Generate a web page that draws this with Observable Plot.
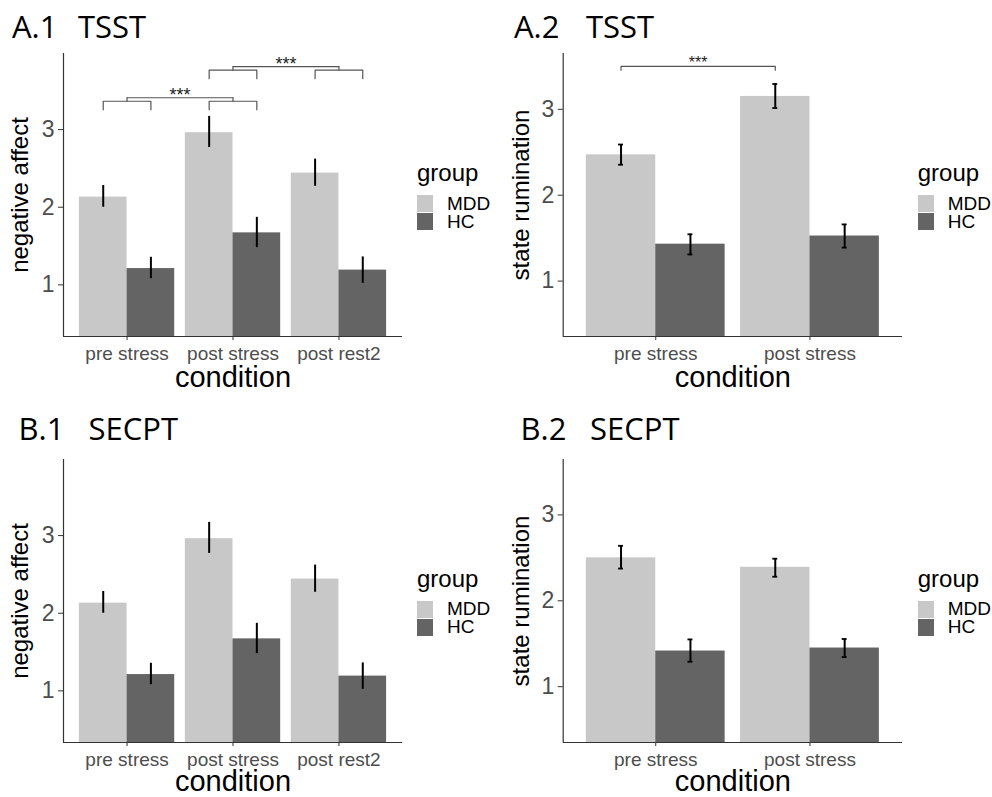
<!DOCTYPE html>
<html>
<head>
<meta charset="utf-8">
<script src="https://cdn.jsdelivr.net/npm/d3@7"></script>
<script src="https://cdn.jsdelivr.net/npm/@observablehq/plot@0.6"></script>
<style>
  html, body { margin: 0; padding: 0; background: #fff; overflow: hidden; }
  #page { position: relative; width: 992px; height: 797px; background: #fff; }
  .abs { position: absolute; white-space: pre; }
  .title { font-family: "Open Sans", "Noto Sans", sans-serif; font-size: 31px; line-height: 31px; color: #000; }
  .lgTitle { font-family: "Liberation Sans", Arial, sans-serif; font-size: 24px; line-height: 24px; color: #000; }
  .lgLabel { font-family: "Liberation Sans", Arial, sans-serif; font-size: 19px; line-height: 17px; color: #000; }
  .swatch { position: absolute; width: 16px; height: 17px; }
  svg { position: absolute; }
</style>
</head>
<body>
<div id="page"></div>
<script>
// ---------------- data ----------------
const conditions3 = ["pre stress", "post stress", "post rest2"];
const conditions2 = ["pre stress", "post stress"];
const groups = ["MDD", "HC"];
const groupColors = ["#c8c8c8", "#646464"];
const yTicks = [1, 2, 3];

// A.1 TSST – negative affect
const a1MDD     = [2.13, 2.96, 2.44];
const a1MDDLow  = [2.00, 2.77, 2.27];
const a1MDDHigh = [2.28, 3.17, 2.62];
const a1HC      = [1.21, 1.67, 1.19];
const a1HCLow   = [1.08, 1.48, 1.02];
const a1HCHigh  = [1.355, 1.87, 1.36];
const a1Brackets = [
  {from: "pre stress",  to: "post stress", y: 3.41, label: "***"},
  {from: "post stress", to: "post rest2",  y: 3.81, label: "***"}
];

// A.2 TSST – state rumination
const a2MDD     = [2.47, 3.15];
const a2MDDLow  = [2.355, 3.015];
const a2MDDHigh = [2.59, 3.295];
const a2HC      = [1.43, 1.525];
const a2HCLow   = [1.31, 1.39];
const a2HCHigh  = [1.545, 1.66];
const a2Brackets = [
  {from: "pre stress", to: "post stress", y: 3.50, label: "***"}
];

// B.1 SECPT – negative affect
const b1MDD     = [2.13, 2.96, 2.44];
const b1MDDLow  = [2.00, 2.77, 2.27];
const b1MDDHigh = [2.28, 3.17, 2.62];
const b1HC      = [1.21, 1.67, 1.19];
const b1HCLow   = [1.08, 1.48, 1.02];
const b1HCHigh  = [1.355, 1.87, 1.36];

// B.2 SECPT – state rumination
const b2MDD     = [2.50, 2.39];
const b2MDDLow  = [2.375, 2.28];
const b2MDDHigh = [2.64, 2.49];
const b2HC      = [1.415, 1.45];
const b2HCLow   = [1.29, 1.345];
const b2HCHigh  = [1.55, 1.555];

// ---------------- drawing ----------------
const page = document.getElementById("page");
const FONT = "'Liberation Sans', Arial, sans-serif";

function buildPanel(cfg) {
  const {conds, mdd, mddLo, mddHi, hc, hcLo, hcHi, yDomain, ylabel,
         brackets = [], bracketKind, caps, starSize = 17, starDy = 2,
         left, top, width, height, marginLeft, marginBottom, ylabelDx, xlabelDy} = cfg;
  const idx = c => conds.indexOf(c) + 1;
  const rows = [];
  conds.forEach((c, i) => {
    rows.push({cond: c, group: "MDD", value: mdd[i], lo: mddLo[i], hi: mddHi[i]});
    rows.push({cond: c, group: "HC",  value: hc[i],  lo: hcLo[i],  hi: hcHi[i]});
  });
  const W = 0.45;
  const x1 = d => idx(d.cond) + (d.group === "MDD" ? -W : 0);
  const xm = d => x1(d) + W / 2;
  const capW = 0.016;

  // bracket geometry
  const pts = [];
  const labels = [];
  brackets.forEach((b, k) => {
    const a = idx(b.from), e = idx(b.to);
    if (bracketKind === "nested") {
      const sub = b.y - 0.045, low = b.y - 0.155;
      [a, e].forEach(c => {
        [[c - W / 2, low], [c - W / 2, sub], [c + W / 2, sub], [c + W / 2, low]]
          .forEach(([x, y]) => pts.push({x, y, z: `${k}-${c}-s`}));
        [[c, sub], [c, b.y]].forEach(([x, y]) => pts.push({x, y, z: `${k}-${c}-c`}));
      });
      [[a, b.y], [e, b.y]].forEach(([x, y]) => pts.push({x, y, z: `${k}-t`}));
      labels.push({x: (a + e) / 2, y: b.y, label: b.label});
    } else {
      const low = b.y - 0.045;
      const xa = a - W / 2, xe = e - W / 2;
      [[xa, low], [xa, b.y], [xe, b.y], [xe, low]]
        .forEach(([x, y]) => pts.push({x, y, z: `${k}`}));
      labels.push({x: (xa + xe) / 2, y: b.y, label: b.label});
    }
  });

  const marks = [
    Plot.rectY(rows, {x1: x1, x2: d => x1(d) + W, y: "value", fill: "group", clip: true}),
    Plot.ruleX(rows, {x: xm, y1: "lo", y2: "hi", stroke: "#000", strokeWidth: 2}),
  ];
  if (caps) {
    marks.push(Plot.ruleY(rows, {x1: d => xm(d) - capW, x2: d => xm(d) + capW, y: "lo", stroke: "#000", strokeWidth: 1.8}));
    marks.push(Plot.ruleY(rows, {x1: d => xm(d) - capW, x2: d => xm(d) + capW, y: "hi", stroke: "#000", strokeWidth: 1.8}));
  }
  if (pts.length) {
    marks.push(Plot.line(pts, {x: "x", y: "y", z: "z", stroke: "#555", strokeWidth: 1.2, curve: "linear"}));
    marks.push(Plot.text(labels, {x: "x", y: "y", text: "label", lineAnchor: "bottom", dy: starDy,
      fontSize: starSize, fill: "#222"}));
  }
  marks.push(
    Plot.ruleX([0.4], {stroke: "#333", strokeWidth: 1.2}),
    Plot.ruleY([yDomain[0]], {stroke: "#333", strokeWidth: 1.2}),
    Plot.axisY({ticks: yTicks, tickFormat: d => String(d), tickSize: 5, tickPadding: 4, fontSize: 23,
      fill: "#4d4d4d", stroke: "#333", label: null}),
    Plot.axisX({ticks: conds.map((c, i) => i + 1), tickFormat: v => conds[v - 1], tickSize: 4, tickPadding: 6,
      fontSize: 19, fill: "#4d4d4d", stroke: "#333", label: null}),
    Plot.text([ylabel], {text: d => d, frameAnchor: "left", textAnchor: "middle", lineAnchor: "middle",
      rotate: -90, dx: ylabelDx, fontSize: 24, fill: "#000"}),
    Plot.text(["condition"], {text: d => d, frameAnchor: "bottom", textAnchor: "middle", lineAnchor: "middle",
      dy: xlabelDy, fontSize: 29, fill: "#000"})
  );

  const svg = Plot.plot({
    width, height,
    marginLeft, marginRight: 2, marginTop: 53, marginBottom,
    x: {domain: [0.4, conds.length + 0.6]},
    y: {domain: yDomain},
    color: {domain: groups, range: groupColors},
    style: {fontFamily: FONT, background: "transparent", overflow: "visible"},
    marks
  });
  svg.style.left = left + "px";
  svg.style.top = top + "px";
  page.appendChild(svg);
}

function addText(cls, txt, left, top) {
  const d = document.createElement("div");
  d.className = "abs " + cls;
  d.textContent = txt;
  d.style.left = left + "px";
  d.style.top = top + "px";
  page.appendChild(d);
}

function addLegend(left, baseTop) {
  addText("lgTitle", "group", left, baseTop - 20.3);
  groups.forEach((g, i) => {
    const s = document.createElement("div");
    s.className = "swatch";
    s.style.left = left + "px";
    s.style.top = (baseTop + 13.3 + i * 18) + "px";
    s.style.background = groupColors[i];
    page.appendChild(s);
    addText("lgLabel", g, left + 30, baseTop + 28.3 + i * 18 - 15.1);
  });
}

function addTitle(code, name, xCode, xName, baseline) {
  addText("title", code, xCode, baseline - 27.5);
  addText("title", name, xName, baseline - 27.5);
}

// A.1
buildPanel({conds: conditions3, mdd: a1MDD, mddLo: a1MDDLow, mddHi: a1MDDHigh,
  hc: a1HC, hcLo: a1HCLow, hcHi: a1HCHigh, yDomain: [0.335, 3.98], ylabel: "negative affect",
  brackets: a1Brackets, bracketKind: "nested", caps: false, starSize: 18, starDy: 3,
  left: 0, top: 0, width: 404, height: 400, marginLeft: 63, marginBottom: 64, ylabelDx: -42.7, xlabelDy: 41.7});
addTitle("A.1", "TSST", 12, 78, 38);
addLegend(417, 181.7);

// A.2
buildPanel({conds: conditions2, mdd: a2MDD, mddLo: a2MDDLow, mddHi: a2MDDHigh,
  hc: a2HC, hcLo: a2HCLow, hcHi: a2HCHigh, yDomain: [0.355, 3.65], ylabel: "state rumination",
  brackets: a2Brackets, bracketKind: "simple", caps: true, starSize: 16, starDy: 1.5,
  left: 496, top: 0, width: 408, height: 400, marginLeft: 66.7, marginBottom: 64, ylabelDx: -42, xlabelDy: 41.7});
addTitle("A.2", "TSST", 514, 586, 38);
addLegend(917.7, 181.7);

// B.1
buildPanel({conds: conditions3, mdd: b1MDD, mddLo: b1MDDLow, mddHi: b1MDDHigh,
  hc: b1HC, hcLo: b1HCLow, hcHi: b1HCHigh, yDomain: [0.335, 3.98], ylabel: "negative affect",
  caps: false,
  left: 0, top: 406, width: 404, height: 391, marginLeft: 63, marginBottom: 55, ylabelDx: -42.7, xlabelDy: 39});
addTitle("B.1", "SECPT", 18.5, 88.5, 440.7);
addLegend(417, 587.2);

// B.2
buildPanel({conds: conditions2, mdd: b2MDD, mddLo: b2MDDLow, mddHi: b2MDDHigh,
  hc: b2HC, hcLo: b2HCLow, hcHi: b2HCHigh, yDomain: [0.35, 3.645], ylabel: "state rumination",
  caps: true,
  left: 496, top: 406, width: 408, height: 391, marginLeft: 66.7, marginBottom: 55, ylabelDx: -42, xlabelDy: 39});
addTitle("B.2", "SECPT", 520.5, 590, 440.7);
addLegend(917.7, 587.2);
</script>
</body>
</html>
